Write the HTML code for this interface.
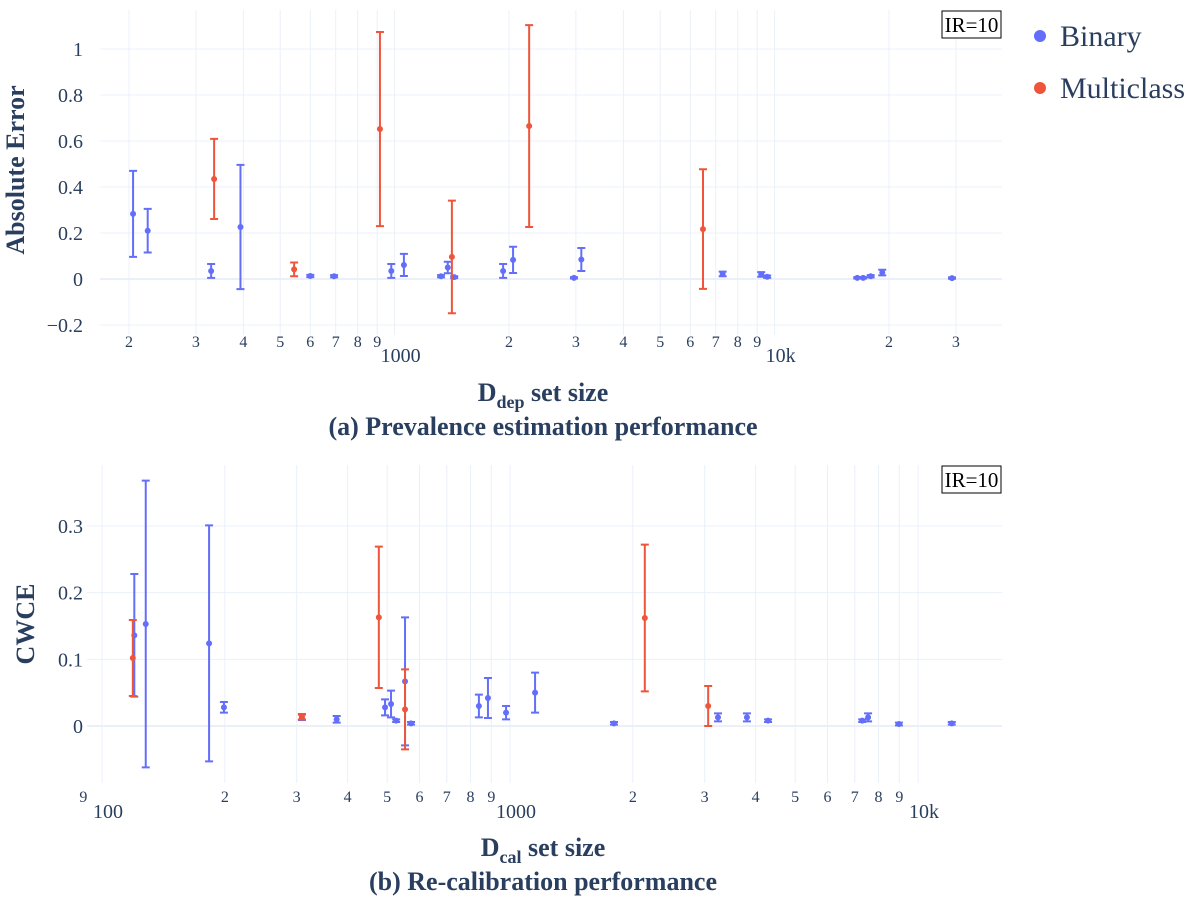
<!DOCTYPE html>
<html><head><meta charset="utf-8"><style>
body{margin:0;background:#fff}
svg{font-family:"Liberation Serif",serif}
</style></head><body>
<svg id="c" width="1200" height="900"></svg>
<script>
const catsTopBin=[205,224,329,393,600,693,980,1058,1325,1380,1435,1930,2050,2965,3100,7300,9220,9560,16500,17100,17900,19200,29300];
const valTopBin=[0.283,0.21,0.035,0.226,0.013,0.012,0.035,0.061,0.012,0.05,0.008,0.035,0.083,0.005,0.085,0.022,0.02,0.01,0.005,0.005,0.012,0.028,0.004];
const errTopBin=[0.187,0.095,0.03,0.27,0.005,0.005,0.03,0.048,0.005,0.025,0.004,0.03,0.057,0.003,0.05,0.01,0.01,0.005,0.003,0.003,0.005,0.012,0.003];
const catsTopMul=[335,544,915,1415,2260,6480];
const valTopMul=[0.435,0.042,0.652,0.096,0.665,0.217];
const errTopMul=[0.174,0.03,0.422,0.245,0.439,0.26];
const catsBotBin=[120,128,183,199,309,376,494,511,526,553,572,839,883,978,1152,1798,3234,3808,4290,7300,7545,8980,12100];
const valBotBin=[0.136,0.153,0.124,0.028,0.013,0.01,0.028,0.033,0.008,0.067,0.004,0.03,0.042,0.02,0.05,0.004,0.013,0.013,0.008,0.008,0.013,0.003,0.004];
const errBotBin=[0.092,0.215,0.177,0.008,0.004,0.005,0.012,0.02,0.002,0.096,0.002,0.017,0.03,0.01,0.03,0.002,0.006,0.006,0.002,0.002,0.006,0.002,0.002];
const catsBotMul=[119,309,477,553,2140,3060];
const valBotMul=[0.102,0.014,0.163,0.025,0.162,0.03];
const errBotMul=[0.057,0.004,0.106,0.06,0.11,0.03];
const yTicksTop=[-0.2,0,0.2,0.4,0.6,0.8,1];
const yTicksBot=[0,0.1,0.2,0.3];

const NS="http://www.w3.org/2000/svg";
const svg=document.getElementById('c');
function el(t,a,txt){const e=document.createElementNS(NS,t);for(const k in a)e.setAttribute(k,a[k]);if(txt!==undefined)e.textContent=txt;svg.appendChild(e);return e;}
const BLUE="#636efa",RED="#EF553B",TXT="#2a3f5f",GRID="#ebf0f8";
const fmt=v=>v<0?"\u22120."+String(Math.round(-v*10)):(v===0?"0":(v===1?"1":String(v)));

function panel(o){
  const X=v=>o.x0+(Math.log10(v)-o.l0)*o.dec;
  const Y=v=>o.yz-v*o.ys;
  for(let e=o.e0;e<=o.e1;e++){for(let m=1;m<=9;m++){const v=m*Math.pow(10,e);const x=X(v);
    if(x<o.left-8||x>o.right)continue;
    if(x>=o.left){const g=el('line',{x1:x,x2:x,y1:o.top,y2:o.bot,stroke:GRID,'stroke-width':1});
    }
    if(m===1){const t=el('text',{x:x+6,y:o.majY,'text-anchor':'middle','font-size':20,fill:TXT},v>=10000?(v/1000)+"k":String(v));
      }
    else{const t=el('text',{x:x,y:o.minY,'text-anchor':'middle','font-size':16,fill:TXT},String(m));
      }
  }}
  for(const v of o.yt){const y=Y(v);
    const g=el('line',{x1:o.left,x2:o.right,y1:y,y2:y,stroke:GRID,'stroke-width':v===0?2:1});
    
    const t=el('text',{x:83,y:y+7,'text-anchor':'end','font-size':20,fill:TXT},fmt(v));
    }
  function series(c,v,e,col,name){for(let i=0;i<c.length;i++){const x=X(c[i]),y=Y(v[i]),y1=Y(v[i]+e[i]),y2=Y(v[i]-e[i]);
    const l=el('path',{d:`M${x},${y1}V${y2}M${x-4},${y1}H${x+4}M${x-4},${y2}H${x+4}`,stroke:col,'stroke-width':2,fill:'none'});
    
    const p=el('circle',{cx:x,cy:y,r:3,fill:col});
    }}
  series(o.cb,o.vb,o.eb,BLUE,'binary');
  series(o.cm,o.vm,o.em,RED,'multiclass');
  const r=el('rect',{x:o.right-60,y:o.top+1,width:59,height:27,fill:'#fff',stroke:'#000','stroke-width':1});
  
  const it=el('text',{x:o.right-30.5,y:o.top+22,'text-anchor':'middle','font-size':21,fill:'#000'},'IR=10');
  
}
panel({x0:394.6,l0:3,dec:380,yz:279,ys:230,left:100,right:1002,top:10,bot:335,e0:2,e1:4,yt:yTicksTop,minY:347,majY:362,
  cb:catsTopBin,vb:valTopBin,eb:errTopBin,cm:catsTopMul,vm:valTopMul,em:errTopMul});
panel({x0:510,l0:3,dec:408,yz:726,ys:666.7,left:87,right:1002,top:465,bot:783,e0:1,e1:4,yt:yTicksBot,minY:802,majY:818,
  cb:catsBotBin,vb:valBotBin,eb:errBotBin,cm:catsBotMul,vm:valBotMul,em:errBotMul});

let t;
t=el('text',{x:0,y:0,transform:'translate(24,170) rotate(-90)','text-anchor':'middle','font-size':26,'font-weight':'bold',fill:TXT},'Absolute Error');

t=el('text',{x:0,y:0,transform:'translate(34,624) rotate(-90)','text-anchor':'middle','font-size':26,'font-weight':'bold',fill:TXT},'CWCE');

t=el('text',{x:543,y:401,'text-anchor':'middle','font-size':26,'font-weight':'bold',fill:TXT});
t.innerHTML='D<tspan font-size="18" dy="7">dep</tspan><tspan dy="-7"> set size</tspan>';

t=el('text',{x:543,y:435,'text-anchor':'middle','font-size':26,'font-weight':'bold',fill:TXT},'(a) Prevalence estimation performance');

t=el('text',{x:543,y:856,'text-anchor':'middle','font-size':26,'font-weight':'bold',fill:TXT});
t.innerHTML='D<tspan font-size="18" dy="7">cal</tspan><tspan dy="-7"> set size</tspan>';

t=el('text',{x:543,y:890,'text-anchor':'middle','font-size':26,'font-weight':'bold',fill:TXT},'(b) Re-calibration performance');

[['Binary',BLUE,36],['Multiclass',RED,88]].forEach(([n,c,y])=>{
  const d=el('circle',{cx:1040,cy:y,r:6,fill:c});
  
  const tx=el('text',{x:1060,y:y+10,'font-size':30,fill:TXT},n);
  
});
</script>
</body></html>
